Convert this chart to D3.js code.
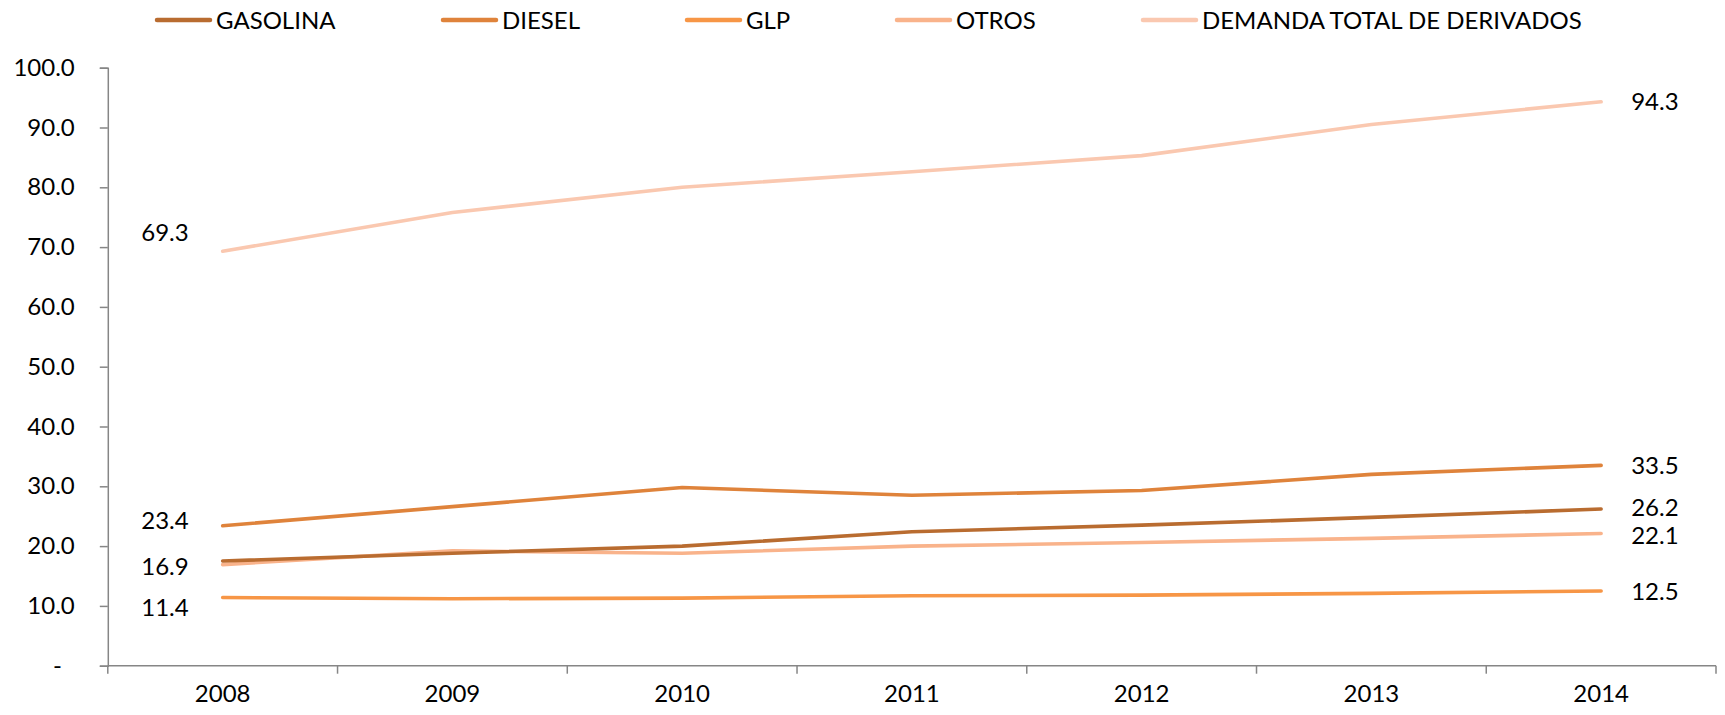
<!DOCTYPE html>
<html><head><meta charset="utf-8">
<script src="https://cdn.jsdelivr.net/npm/d3@7"></script>
<style>
html,body{margin:0;padding:0;background:#fff;}
text{font-family:Lato,"Open Sans",sans-serif;fill:#000;}
</style></head>
<body>
<svg id="chart" width="1725" height="715"></svg>
<script>
const years = ["2008","2009","2010","2011","2012","2013","2014"];
const seriesNames = ["GASOLINA","DIESEL","GLP","OTROS","DEMANDA TOTAL DE DERIVADOS"];
const gasolina = [17.5, 18.8, 20.0, 22.4, 23.5, 24.8, 26.2];
const diesel   = [23.4, 26.6, 29.8, 28.5, 29.3, 32.0, 33.5];
const glp      = [11.4, 11.2, 11.3, 11.7, 11.8, 12.1, 12.5];
const otros    = [16.9, 19.2, 18.8, 20.0, 20.6, 21.3, 22.1];
const demanda  = [69.3, 75.8, 80.0, 82.6, 85.3, 90.5, 94.3];
const yTicks = [0,10,20,30,40,50,60,70,80,90,100];

const colors = ["#B96C30","#DF833B","#F79646","#F9B38B","#FAC8B0"];
const seriesValues = [gasolina, diesel, glp, otros, demanda];
// label nudges (dy in px)
const leftLabelNudge = {1:-5, 2:10, 3:1.5, 4:-18.5};
const rightLabelNudge = {0:-1.5, 3:1.5};
const legendX = [157, 443, 687, 897, 1143];

const svg = d3.select("#chart");
const x = d3.scaleBand().domain(years).range([107.8, 1716]);
const y = d3.scaleLinear().domain([0,100]).range([665.7, 67.7]);
const cx = d => x(d) + x.bandwidth()/2;
const FS = 24;

// Y axis
const yAxis = d3.axisLeft(y).tickValues(yTicks).tickSize(8).tickPadding(25)
  .tickFormat(d => d === 0 ? "-" : d3.format(".1f")(d));
const gy = svg.append("g").attr("transform","translate(107.8,0)").call(yAxis);
gy.select(".domain").attr("stroke","#868686").attr("stroke-width",1.5);
gy.selectAll(".tick line").attr("stroke","#868686").attr("stroke-width",1.5);
gy.selectAll(".tick text").style("font-size",FS+"px").style("font-family","Lato")
  .attr("fill","#000")
  .attr("dx", d => d === 0 ? -13 : 0);

// X axis
const xAxis = d3.axisBottom(x).tickSize(0).tickPadding(0);
const gx = svg.append("g").attr("transform","translate(0,665.7)").call(xAxis);
gx.select(".domain").remove();
gx.selectAll(".tick text").style("font-size",FS+"px").style("font-family","Lato")
  .attr("fill","#000").attr("y",36).attr("dy",0);
svg.append("line").attr("x1",x.range()[0]).attr("x2",x.range()[1])
  .attr("y1",y(0)).attr("y2",y(0)).attr("stroke","#868686").attr("stroke-width",1.5);
svg.append("g").selectAll("line").data(d3.range(years.length+1)).join("line")
  .attr("x1", i => x.range()[0] + i*x.step()).attr("x2", i => x.range()[0] + i*x.step())
  .attr("y1", y(0)).attr("y2", y(0)+8)
  .attr("stroke","#868686").attr("stroke-width",1.5);

// Lines
const line = d3.line().x((v,i)=>cx(years[i])).y(v=>y(v));
const drawOrder = [4,1,3,0,2];
drawOrder.forEach(s => {
  svg.append("path").datum(seriesValues[s]).attr("d", line)
    .attr("fill","none").attr("stroke",colors[s]).attr("stroke-width",3.6)
    .attr("stroke-linecap","round").attr("stroke-linejoin","round");
});

// Labels
seriesValues.forEach((vals, s) => {
  const last = vals.length-1;
  svg.append("text").attr("x", cx(years[last]) + 30).attr("y", y(vals[last]) + (rightLabelNudge[s]||0))
    .attr("dy","0.36em").style("font-size",FS+"px").text(d3.format(".1f")(vals[last]));
  if (leftLabelNudge[s] !== undefined) {
    svg.append("text").attr("x", cx(years[0]) - 34).attr("y", y(vals[0]) + leftLabelNudge[s])
      .attr("dy","0.36em").attr("text-anchor","end").style("font-size",FS+"px")
      .text(d3.format(".1f")(vals[0]));
  }
});

// Legend
seriesNames.forEach((n, s) => {
  const g = svg.append("g").attr("transform",`translate(${legendX[s]},20)`);
  g.append("line").attr("x1",0).attr("x2",53).attr("y1",0).attr("y2",0)
    .attr("stroke",colors[s]).attr("stroke-width",4.5).attr("stroke-linecap","round");
  g.append("text").attr("x",59).attr("y",0).attr("dy","0.36em")
    .style("font-size","24px").text(n);
});
</script>
</body></html>
